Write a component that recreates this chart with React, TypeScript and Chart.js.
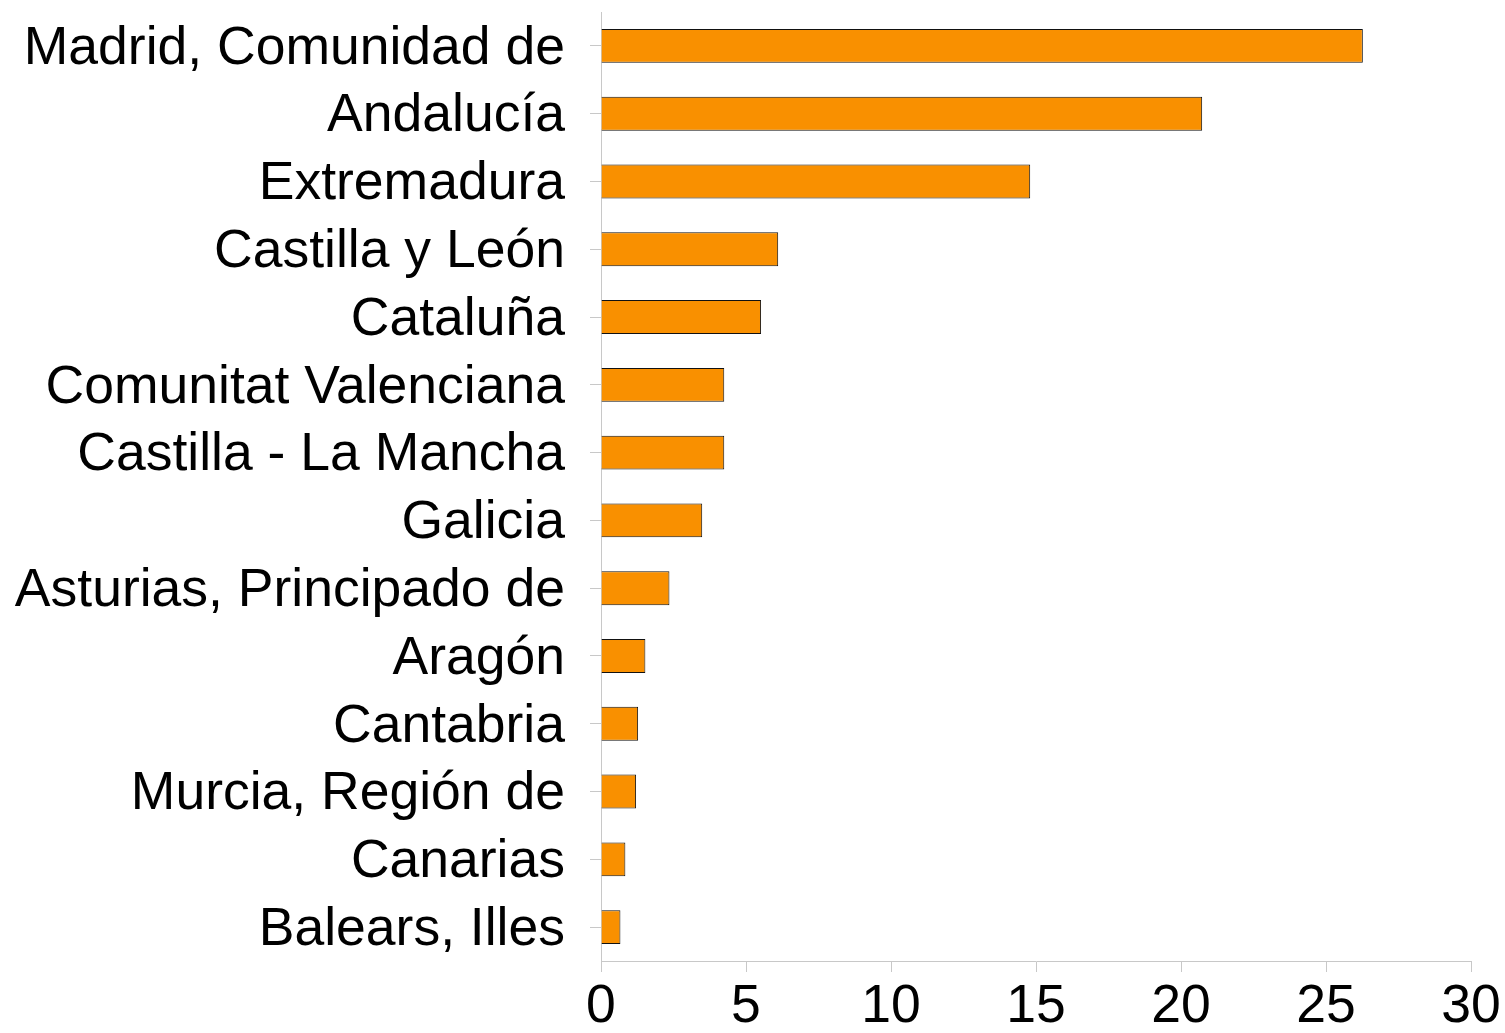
import React, { useEffect, useRef } from "react";
import { Chart, registerables } from "chart.js";

Chart.register(...registerables);

const categories: string[] = [
  "Madrid, Comunidad de",
  "Andalucía",
  "Extremadura",
  "Castilla y León",
  "Cataluña",
  "Comunitat Valenciana",
  "Castilla - La Mancha",
  "Galicia",
  "Asturias, Principado de",
  "Aragón",
  "Cantabria",
  "Murcia, Región de",
  "Canarias",
  "Balears, Illes",
];

const values: number[] = [26.27, 20.73, 14.8, 6.11, 5.52, 4.25, 4.25, 3.49, 2.36, 1.53, 1.28, 1.21, 0.84, 0.67];

const xTickMin = 0;
const xTickMax = 30;
const xTickStep = 5;

export default function App() {
  const canvasRef = useRef<HTMLCanvasElement | null>(null);

  useEffect(() => {
    if (!canvasRef.current) return;
    const font = { family: "'Liberation Sans', Arial, sans-serif", size: 53.5 };
    const chart = new Chart(canvasRef.current, {
      type: "bar",
      data: {
        labels: categories,
        datasets: [
          {
            data: values,
            backgroundColor: "#F99000",
            borderColor: "#111111",
            borderWidth: 1,
            barPercentage: 0.5,
            categoryPercentage: 1,
          },
        ],
      },
      options: {
        indexAxis: "y",
        animation: false,
        responsive: true,
        maintainAspectRatio: false,
        layout: { padding: { top: 12, right: 34, left: 0, bottom: 0 } },
        plugins: { legend: { display: false }, tooltip: { enabled: false } },
        scales: {
          x: {
            min: xTickMin,
            max: xTickMax,
            ticks: { stepSize: xTickStep, color: "#000", font, padding: 3, maxRotation: 0 },
            grid: { drawOnChartArea: false, drawTicks: true, tickLength: 11, color: "#c8c8c8" },
            border: { display: true, color: "#c8c8c8", width: 1 },
            afterFit: (scale: any) => {
              scale.height = 72;
              scale.paddingLeft = 0;
              scale.paddingRight = 0;
            },
          },
          y: {
            offset: true,
            ticks: { color: "#000", font, padding: 25, autoSkip: false, labelOffset: 3 },
            grid: { offset: false, drawOnChartArea: false, drawTicks: true, tickLength: 11, color: "#c8c8c8" },
            border: { display: true, color: "#c8c8c8", width: 1 },
            afterFit: (scale: any) => {
              scale.width = 601;
              scale.paddingTop = 0;
              scale.paddingBottom = 0;
            },
          },
        },
      },
    });
    return () => chart.destroy();
  }, []);

  return (
    <div style={{ position: "fixed", left: 0, top: 0, width: 1505, height: 1033, background: "#fff" }}>
      <canvas ref={canvasRef} />
    </div>
  );
}
